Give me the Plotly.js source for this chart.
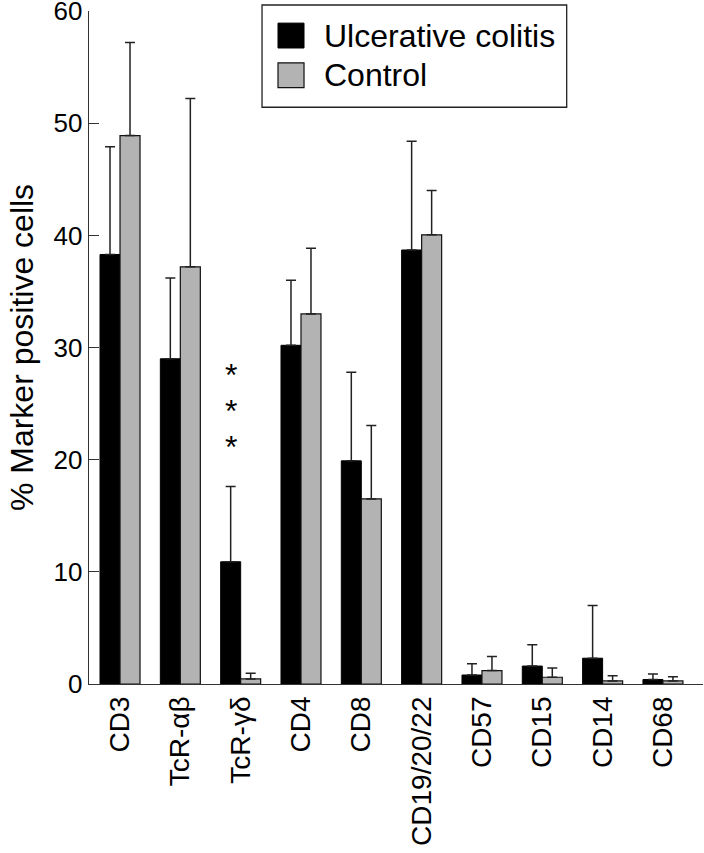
<!DOCTYPE html>
<html>
<head>
<meta charset="utf-8">
<script src="https://cdn.plot.ly/plotly-3.0.1.min.js"></script>
<style>html,body{margin:0;padding:0;background:#fff;}#chart{width:704px;height:853px;}</style>
</head>
<body>
<div id="chart"></div>
<script>
var categories = ["CD3", "TcR-αβ", "TcR-γδ", "CD4", "CD8", "CD19/20/22", "CD57", "CD15", "CD14", "CD68"];
var ucMeans = [38.3, 29.0, 10.9, 30.2, 19.9, 38.7, 0.8, 1.6, 2.3, 0.4];
var ucSD = [9.6, 7.2, 6.7, 5.8, 7.9, 9.7, 1.0, 1.9, 4.7, 0.5];
var ctrlMeans = [48.9, 37.2, 0.45, 33.0, 16.5, 40.05, 1.2, 0.6, 0.27, 0.27];
var ctrlSD = [8.3, 15.0, 0.5, 5.85, 6.56, 3.95, 1.26, 0.83, 0.47, 0.38];
var seriesNames = ["Ulcerative colitis", "Control"];
var yTicks = [0, 10, 20, 30, 40, 50, 60];
var starCategory = "TcR-γδ";
var starLevels = [28.1, 24.9, 21.7];

var FONT = "Liberation Sans, Arial, Helvetica, sans-serif";
var zeros = categories.map(function(){return 0;});

var traces = [
  {
    type: "bar", name: seriesNames[0], x: categories, y: ucMeans,
    marker: {color: "#000000", line: {color: "#000000", width: 1}},
    error_y: {type: "data", symmetric: false, array: ucSD, arrayminus: zeros,
              color: "#222222", thickness: 1.5, width: 5}
  },
  {
    type: "bar", name: seriesNames[1], x: categories, y: ctrlMeans,
    marker: {color: "#b3b3b3", line: {color: "#111111", width: 1.2}},
    error_y: {type: "data", symmetric: false, array: ctrlSD, arrayminus: zeros,
              color: "#222222", thickness: 1.5, width: 5}
  }
];

var annotations = starLevels.map(function(v){
  return {x: starCategory, y: v, xref: "x", yref: "y", text: "*", showarrow: false,
          xshift: -10, yshift: -6, font: {family: FONT, size: 32, color: "#000"}};
});

// legend (drawn in paper coords)
var legX0 = 0.2818, legX1 = 0.778, legY0 = 0.857, legY1 = 1.0089;
var shapes = [
  {type: "rect", xref: "paper", yref: "paper", x0: legX0, x1: legX1, y0: legY0, y1: legY1,
   line: {color: "#222", width: 1.3}, fillcolor: "#fff", layer: "above"},
  {type: "rect", xref: "paper", yref: "paper", x0: 0.3078, x1: 0.3502, y0: 0.945, y1: 0.982,
   line: {color: "#000", width: 1}, fillcolor: "#000", layer: "above"},
  {type: "rect", xref: "paper", yref: "paper", x0: 0.3078, x1: 0.3502, y0: 0.886, y1: 0.923,
   line: {color: "#111", width: 1.2}, fillcolor: "#b3b3b3", layer: "above"}
];
annotations.push({xref: "paper", yref: "paper", x: 0.379, y: 0.9635, xanchor: "left", yanchor: "middle",
  text: seriesNames[0], showarrow: false, font: {family: FONT, size: 32, color: "#000"}});
annotations.push({xref: "paper", yref: "paper", x: 0.379, y: 0.9045, xanchor: "left", yanchor: "middle",
  text: seriesNames[1], showarrow: false, font: {family: FONT, size: 32, color: "#000"}});

var layout = {
  width: 704, height: 853,
  margin: {l: 89, r: 1, t: 11, b: 169, pad: 0},
  paper_bgcolor: "#fff", plot_bgcolor: "#fff",
  showlegend: false,
  barmode: "group", bargap: 0.337, bargroupgap: 0,
  font: {family: FONT, color: "#000"},
  xaxis: {
    type: "category", range: [-0.514, 9.664], showline: true, linecolor: "#333", linewidth: 1.3,
    ticks: "", tickangle: -90, tickfont: {family: FONT, size: 28, color: "#000"},
    showgrid: false, zeroline: false, fixedrange: true
  },
  yaxis: {
    range: [0, 60.01], tickvals: yTicks, ticktext: yTicks.map(String),
    ticklabeloverflow: "allow",
    showline: true, linecolor: "#333", linewidth: 1.3,
    ticks: "inside", ticklen: 10, tickwidth: 1.3, tickcolor: "#333",
    tickfont: {family: FONT, size: 26, color: "#000"},
    showgrid: false, zeroline: false, fixedrange: true,
    title: {text: "% Marker positive cells", font: {family: FONT, size: 32, color: "#000"}, standoff: 10}
  },
  shapes: shapes,
  annotations: annotations
};

Plotly.newPlot("chart", traces, layout, {displayModeBar: false, staticPlot: true});
</script>
</body>
</html>
